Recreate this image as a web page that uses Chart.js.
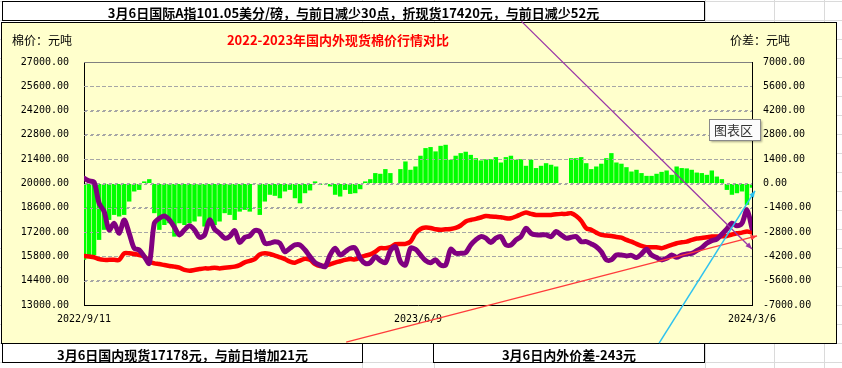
<!DOCTYPE html>
<html>
<head>
<meta charset="utf-8">
<script src="https://cdn.jsdelivr.net/npm/chart.js@4.4.1/dist/chart.umd.min.js"></script>
<style>
  html, body { margin: 0; padding: 0; background: #fff; }
  canvas { display: block; }
</style>
</head>
<body>
<canvas id="cottonChart" width="842" height="368"></canvas>
<script>
// dates shown under the x axis: first day, middle, last day
let dateTicks = ['2022/9/11', '2023/6/9', '2024/3/6'];

// 国际棉价折人民币 (purple line), 元/吨
let intlPrice = [
  20300, 20150, 20080, 18870, 18390, 17330, 17710, 17130, 17900, 17130,
  16270, 16170, 15790, 15400, 17710, 18000, 18130, 17900, 17480, 17040,
  17330, 17560, 17330, 16900, 17040, 17900, 17370, 17130, 16850, 16940,
  17290, 16600, 16900, 16980, 17290, 17230, 16560, 16560, 16650, 16560,
  16070, 16270, 16460, 16460, 16170, 15790, 15440, 15300, 15210, 15880,
  16270, 15880, 16070, 16270, 16270, 15690, 15400, 15440, 15790, 15560,
  15440, 16130, 16360, 15500, 15300, 16270, 16210, 15880, 15560, 15440,
  15600, 15300, 15300, 16210, 15980, 15980, 16020, 16460, 16750, 16940,
  16850, 16600, 16850, 16940, 16460, 16460, 16750, 16940, 17420, 17130,
  17040, 17040, 17040, 16940, 17230, 17040, 16850, 16900, 16940, 16650,
  16650, 16520, 16360, 16070, 15600, 15600, 15880, 15880, 15830, 15860,
  15730, 15940, 16210, 15880, 15730, 15600, 15690, 15880, 15750, 15880,
  15940, 15980, 16130, 16300, 16560, 16710, 16800, 17080, 17380, 17710,
  17560, 17710, 18480, 17420
];

// 国内现货棉价 (red line), 元/吨
let homePrice = [
  15830, 15790, 15750, 15640, 15600, 15600, 15600, 15600, 15980, 15980,
  15940, 15880, 15790, 15500, 15400, 15360, 15300, 15250, 15210, 15150,
  15020, 14980, 15020, 15070, 15110, 15110, 15150, 15110, 15150, 15170,
  15210, 15300, 15460, 15540, 15640, 15920, 15980, 15940, 15850, 15750,
  15640, 15500, 15440, 15560, 15670, 15600, 15360, 15250, 15270, 15340,
  15440, 15520, 15600, 15650, 15630, 15750, 15840, 15920, 16070, 16270,
  16270, 16330, 16500, 16520, 16520, 16650, 17130, 17380, 17460, 17440,
  17360, 17330, 17360, 17380, 17440, 17580, 17810, 17900, 17960, 18040,
  18130, 18100, 18080, 18060, 18000, 18000, 18100, 18230, 18330, 18250,
  18190, 18190, 18190, 18190, 18230, 18250, 18250, 18290, 18130, 17850,
  17420, 17330, 17170, 17040, 17000, 16980, 16920, 16880, 16750, 16650,
  16520, 16400, 16330, 16330, 16330, 16270, 16360, 16460, 16560, 16610,
  16650, 16750, 16830, 16860, 16900, 16940, 16940, 16960, 16980, 17060,
  17130, 17170, 17230, 17178
];

// 内外价差 (green bars), 元/吨, null = no bar that day
let priceGap = [
  -4400, -4120, -4120, -3250, -2670, -2100, -1810, -1900, -1810, -1040,
  -460, -370, 120, 250, -1710, -2670, -2390, -2290, -3060, -2290,
  -2390, -2290, -2190, -1900, -2480, -2100, -2390, -2190, -1710, -1810,
  -2100, -1620, -1520, -1620, null, -1810, -1040, -650, -710, -850,
  -460, -370, -850, -1140, -560, -400, 120, -80, 20, -170,
  -650, -750, -370, -600, -560, -330, 120, 250, 600, 560,
  830, 600, null, 830, 1270, 790, 980, 1600, 2040, 2100,
  1850, 2170, 2230, 1370, 1600, 1750, 1830, 1650, 1460, 1330,
  1400, 1400, 1520, 1210, 1520, 1600, 1370, 1400, 1020, 1370,
  890, 1020, 1170, 1080, 980, null, null, 1460, 1460, 1520,
  1170, 830, 980, 1140, 1460, 1750, 1210, 1140, 940, 690,
  790, 600, 440, 440, 560, 670, 750, 500, 980, 890,
  870, 790, 630, 600, 500, 750, 400, 250, -370, -650,
  -560, -460, -1230, -243
];

let priceMin = 13000, priceMax = 27000;
let gapMin = -7000, gapMax = 7000;
let tickStep = 1400;

let lastIdx = intlPrice.length - 1;
let toPoints = arr => arr.map((v, i) => ({ x: i, y: v }));

// drawn arrows that sit on the sheet, given in chart values (x index, 棉价)
let arrows = [
  { from: [87.1, 29340], to: [133, 16230], color: '#9a35a6', width: 1.3 },
  { from: [52.2, 10860], to: [134, 16980], color: '#ff3b3b', width: 1.3 },
  { from: [114.5, 10800], to: [133.6, 19580], color: '#2ec2ef', width: 1.5 }
];

let tickFont = { family: 'DejaVu Sans Mono', size: 10 };
let cjk = '"Noto Sans CJK SC", sans-serif';

function line(c, x1, y1, x2, y2) {
  c.beginPath(); c.moveTo(x1, y1); c.lineTo(x2, y2); c.stroke();
}

function textBox(c, x, y, w, h, txt, baseY) {
  c.fillStyle = '#fff';
  c.fillRect(x, y, w, h);
  c.strokeStyle = '#000';
  c.lineWidth = 1;
  c.strokeRect(x, y, w, h);
  c.fillStyle = '#000';
  c.font = 'bold 13px ' + cjk;
  c.textAlign = 'center';
  c.textBaseline = 'alphabetic';
  c.fillText(txt, x + w / 2, baseY);
}

const sheetPlugin = {
  id: 'sheet',
  beforeDraw(chart) {
    const c = chart.ctx;
    c.save();
    c.fillStyle = '#fff';
    c.fillRect(0, 0, chart.width, chart.height);
    // worksheet cell lines
    c.strokeStyle = '#dadada';
    c.lineWidth = 1;
    for (let y = 1; y < chart.height; y += 19) line(c, 0, y + 0.5, chart.width, y + 0.5);
    [362, 434, 705, 774, 824].forEach(x => line(c, x + 0.5, 0, x + 0.5, chart.height));
    // chart area
    c.fillStyle = '#ffffcc';
    c.fillRect(1, 22, 835, 321);
    c.strokeStyle = '#000';
    c.strokeRect(1.5, 22.5, 835, 321);
    c.restore();
  },
  afterDatasetDraw(chart, args) {
    // dashed grid lines show over the green bars
    if (args.meta.type !== 'bar') return;
    const c = chart.ctx, ys = chart.scales.y, a = chart.chartArea;
    c.save();
    c.strokeStyle = '#a6a6a6';
    c.lineWidth = 1;
    c.setLineDash([3, 3]);
    ys.ticks.forEach(t => {
      if (t.value === priceMin || t.value === priceMax) return;
      const y = Math.round(ys.getPixelForValue(t.value)) + 0.5;
      line(c, a.left, y, a.right, y);
    });
    c.restore();
  },
  afterDraw(chart) {
    const c = chart.ctx, a = chart.chartArea;
    const xs = chart.scales.x, ys = chart.scales.y;
    c.save();
    // top border of the plot
    c.strokeStyle = '#808080';
    c.lineWidth = 1;
    line(c, a.left, Math.round(a.top) + 0.5, a.right, Math.round(a.top) + 0.5);

    // units and title
    c.textBaseline = 'middle';
    c.fillStyle = '#000';
    c.font = '12px ' + cjk;
    c.textAlign = 'left';
    c.fillText('棉价：元吨', 12, 40);
    c.fillText('价差：元吨', 730, 40);
    c.fillStyle = '#ff0000';
    c.font = 'bold 13px ' + cjk;
    c.textAlign = 'center';
    c.fillText('2022-2023年国内外现货棉价行情对比', 338, 40);

    // text boxes
    textBox(c, 2.5, 1.5, 702, 19, '3月6日国际A指101.05美分/磅，与前日减少30点，折现货17420元，与前日减少52元', 18);
    textBox(c, 2.5, 343.5, 360, 19, '3月6日国内现货17178元，与前日增加21元', 360);
    textBox(c, 433.5, 343.5, 271, 19, '3月6日内外价差-243元', 360);

    // arrows
    arrows.forEach(ar => {
      const x1 = xs.getPixelForValue(ar.from[0]), y1 = ys.getPixelForValue(ar.from[1]);
      const x2 = xs.getPixelForValue(ar.to[0]), y2 = ys.getPixelForValue(ar.to[1]);
      c.strokeStyle = ar.color;
      c.fillStyle = ar.color;
      c.lineWidth = ar.width;
      line(c, x1, y1, x2, y2);
      const ang = Math.atan2(y2 - y1, x2 - x1), s = 7;
      c.beginPath();
      c.moveTo(x2, y2);
      c.lineTo(x2 - s * Math.cos(ang - 0.4), y2 - s * Math.sin(ang - 0.4));
      c.lineTo(x2 - s * Math.cos(ang + 0.4), y2 - s * Math.sin(ang + 0.4));
      c.closePath();
      c.fill();
    });

    // hover label left by the spreadsheet
    c.shadowColor = 'rgba(0,0,0,0.35)';
    c.shadowOffsetX = 2;
    c.shadowOffsetY = 2;
    c.shadowBlur = 2;
    c.fillStyle = '#fbfbfb';
    c.fillRect(709, 119, 51, 21);
    c.shadowColor = 'transparent';
    c.strokeStyle = '#8a8a8a';
    c.lineWidth = 1;
    c.strokeRect(709.5, 119.5, 51, 21);
    c.fillStyle = '#333';
    c.font = '13px ' + cjk;
    c.textAlign = 'left';
    c.textBaseline = 'middle';
    c.fillText('图表区', 714, 130);
    c.restore();
  }
};

let ctx = document.getElementById('cottonChart').getContext('2d');

let cottonChart = new Chart(ctx, {
  type: 'bar',
  data: {
    datasets: [{
      type: 'line',
      label: '国际棉价折人民币',
      data: toPoints(intlPrice),
      yAxisID: 'y',
      borderColor: '#800080',
      borderWidth: 5,
      pointRadius: 0,
      tension: 0.3,
      borderJoinStyle: 'round',
      borderCapStyle: 'round',
      order: 1
    }, {
      type: 'line',
      label: '国内现货',
      data: toPoints(homePrice),
      yAxisID: 'y',
      borderColor: '#ff0000',
      borderWidth: 4.5,
      pointRadius: 0,
      tension: 0.3,
      borderJoinStyle: 'round',
      borderCapStyle: 'round',
      order: 2
    }, {
      type: 'bar',
      label: '内外价差',
      data: toPoints(priceGap),
      yAxisID: 'y1',
      backgroundColor: '#00ff00',
      barPercentage: 0.88,
      categoryPercentage: 1,
      order: 3
    }]
  },
  options: {
    responsive: false,
    animation: false,
    devicePixelRatio: 1,
    layout: { padding: { top: 62, left: 0, right: 0, bottom: 0 } },
    plugins: {
      legend: { display: false },
      tooltip: { enabled: false }
    },
    scales: {
      x: {
        type: 'linear',
        min: 0,
        max: lastIdx,
        offset: false,
        grid: { display: false, offset: false },
        border: { color: '#000' },
        afterBuildTicks: s => { s.ticks = [0, lastIdx / 2, lastIdx].map(v => ({ value: v })); },
        afterFit: s => { s.height = 63; },
        ticks: {
          autoSkip: false,
          maxRotation: 0,
          padding: 0,
          color: '#000',
          font: tickFont,
          callback: (v, i) => dateTicks[i]
        }
      },
      y: {
        position: 'left',
        min: priceMin,
        max: priceMax,
        afterFit: s => { s.width = 84; },
        grid: {
          drawTicks: false,
          color: c => (c.tick && (c.tick.value === priceMin || c.tick.value === priceMax)) ? 'rgba(0,0,0,0)' : '#a6a6a6'
        },
        border: { color: '#000', dash: [3, 3] },
        ticks: {
          stepSize: tickStep,
          padding: 15,
          color: '#000',
          font: tickFont,
          callback: v => v.toFixed(2)
        }
      },
      y1: {
        position: 'right',
        min: gapMin,
        max: gapMax,
        afterFit: s => { s.width = 90; },
        grid: { drawOnChartArea: false, drawTicks: false },
        border: { color: '#000' },
        ticks: {
          stepSize: tickStep,
          padding: 11,
          color: '#000',
          font: tickFont,
          callback: v => v.toFixed(2)
        }
      }
    }
  },
  plugins: [sheetPlugin]
});
</script>
</body>
</html>
